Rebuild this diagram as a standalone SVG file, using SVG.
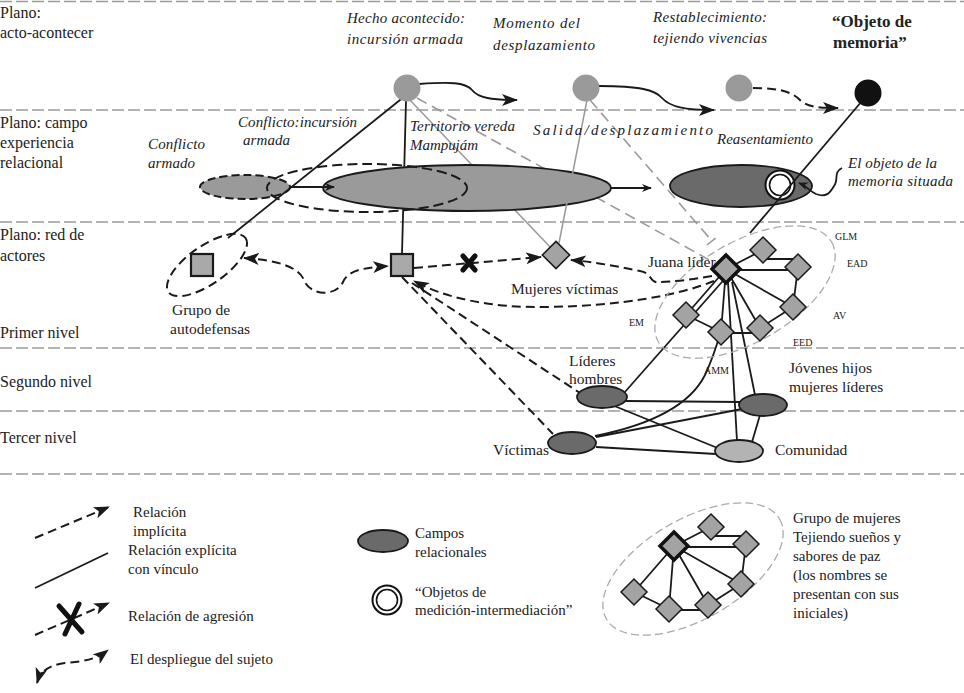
<svg xmlns="http://www.w3.org/2000/svg" xmlns:xlink="http://www.w3.org/1999/xlink" width="964" height="693" viewBox="0 0 964 693">
<style>
text{font-family:"Liberation Serif","Times New Roman",serif;fill:#222}
.lab{font-size:16px}
.mid{font-size:15.5px}
.it{font-size:15px;font-style:italic}
.sm{font-size:10px}
.leg{font-size:15px}
.plane{stroke:#9a9a9a;stroke-width:1.6;stroke-dasharray:12 4;fill:none}
.k{stroke:#1a1a1a;stroke-width:1.8;fill:none}
.kd{stroke:#1a1a1a;stroke-width:2;fill:none;stroke-dasharray:9 5}
.g{stroke:#9a9a9a;stroke-width:1.5;fill:none}
.gd{stroke:#9a9a9a;stroke-width:1.6;fill:none;stroke-dasharray:11 6}
.dia{fill:#a3a3a3;stroke:#1a1a1a;stroke-width:1.5}
.diab{fill:#a3a3a3;stroke:#111;stroke-width:3.5}
.dark{fill:#6a6a6a;stroke:#1a1a1a;stroke-width:1.8}
.mgray{fill:#9a9a9a;stroke:#1a1a1a;stroke-width:1.8}
.light{fill:#b3b3b3;stroke:#1a1a1a;stroke-width:1.8}
.sq{fill:#a9a9a9;stroke:#1a1a1a;stroke-width:2.2}
.x{stroke:#111;stroke-width:5;stroke-linecap:round;fill:none}
</style>
<defs>
<marker id="arr" viewBox="0 0 16 12" refX="15" refY="6" markerWidth="16" markerHeight="12" markerUnits="userSpaceOnUse" orient="auto-start-reverse"><path d="M0,0 L16,6 L0,12 L4,6 Z" fill="#1a1a1a"/></marker>
<marker id="arrs" viewBox="0 0 10 8" refX="9" refY="4" markerWidth="10" markerHeight="8" markerUnits="userSpaceOnUse" orient="auto"><path d="M0,0 L10,4 L0,8 L3,4 Z" fill="#1a1a1a"/></marker>
<path id="d" d="M0,-13 L13,0 L0,13 L-13,0 Z"/>
<g id="cluster">
<ellipse cx="19" cy="23" rx="100" ry="50" transform="rotate(-30 19 23)" fill="none" stroke="#aaaaaa" stroke-width="1.3" stroke-dasharray="8 4"/>
<path class="k" stroke-width="1.5" d="M0,0 L37,-19 M37,-10 L72,-10 M0,1 L72,1 M72,-2 L67,38 M0,0 L67,38 M67,38 L34,59 M-5,64 L34,64 M-5,63 L-40,46 M0,0 L-40,46 M0,0 L-5,63 M0,0 L34,59"/>
<use xlink:href="#d" class="dia" transform="translate(37,-19)"/>
<use xlink:href="#d" class="dia" transform="translate(72,-2)"/>
<use xlink:href="#d" class="dia" transform="translate(67,38)"/>
<use xlink:href="#d" class="dia" transform="translate(34,59)"/>
<use xlink:href="#d" class="dia" transform="translate(-5,63)"/>
<use xlink:href="#d" class="dia" transform="translate(-40,46)"/>
<path class="diab" d="M0,-14 L14,0 L0,14 L-14,0 Z"/>
</g>
</defs>

<rect width="964" height="693" fill="#fff"/>

<g id="planes">
<path class="plane" d="M0,1.5 H964 M0,110 H964 M0,222 H964 M0,348 H964 M0,411 H964 M0,474 H964"/>
<text class="lab" x="0" y="18">Plano:</text>
<text class="lab" x="0" y="38">acto-acontecer</text>
<text class="lab" x="0" y="128">Plano: campo</text>
<text class="lab" x="0" y="148">experiencia</text>
<text class="lab" x="0" y="168">relacional</text>
<text class="lab" x="0" y="240">Plano: red de</text>
<text class="lab" x="0" y="261">actores</text>
<text class="lab" x="0" y="338">Primer nivel</text>
<text class="lab" x="0" y="387">Segundo nivel</text>
<text class="lab" x="0" y="443">Tercer nivel</text>
</g>

<g id="connectors-back">
<path class="g" d="M408,98 L553,250"/>
<path class="gd" d="M417,98 L722,267"/>
<path class="gd" d="M590,100 L712,241 M707,245 L717,237"/>
<path class="k" d="M406,101 L402,254"/>
</g>

<g id="conflicto-armado">
<ellipse cx="245" cy="187" rx="45" ry="12" fill="#9a9a9a" stroke="#1a1a1a" stroke-width="2" stroke-dasharray="8 4"/>
<text class="it" x="148" y="149" textLength="57">Conflicto</text>
<text class="it" x="148" y="168" textLength="47">armado</text>
</g>
<g id="territorio">
<ellipse class="mgray" cx="467" cy="188" rx="144" ry="23"/>
<text class="it" x="410" y="131" textLength="105">Territorio vereda</text>
<text class="it" x="410" y="150" textLength="68">Mampujám</text>
</g>
<g id="conflicto-incursion">
<ellipse cx="367" cy="188" rx="100" ry="24" fill="none" stroke="#1a1a1a" stroke-width="2" stroke-dasharray="10 5"/>
<text class="it" x="238" y="127" textLength="119">Conflicto:incursión</text>
<text class="it" x="243" y="145" textLength="47">armada</text>
</g>
<g id="reasentamiento">
<ellipse class="dark" cx="741" cy="186" rx="71" ry="21"/>
<circle cx="780" cy="185" r="14.5" fill="#fff" stroke="#111" stroke-width="2"/>
<circle cx="780" cy="185" r="10.5" fill="#fff" stroke="#111" stroke-width="1.6"/>
<text class="it" x="717" y="144" textLength="96">Reasentamiento</text>
<text class="it" x="848" y="168" textLength="89">El objeto de la</text>
<text class="it" x="848" y="186" textLength="105">memoria situada</text>
</g>

<g id="connectors">
<path class="k" d="M419,84 C450,82 465,82 472,90 C478,98 492,100 517,100" marker-end="url(#arr)"/>
<path class="k" d="M599,86 C640,86 655,90 662,98 C670,107 685,110 714,110" marker-end="url(#arr)"/>
<path class="kd" d="M753,88 C780,88 792,92 800,100 C806,106 815,108 838,108" marker-end="url(#arr)"/>
<path class="k" stroke-width="1.5" d="M290,187 L334,187" marker-end="url(#arrs)"/>
<path class="k" stroke-width="1.5" d="M611,188 L651,188" marker-end="url(#arrs)"/>
<path class="g" d="M587,100 L559,243"/>
<path class="k" d="M405,96 L228,238"/>
<path class="k" d="M862,101 L750,233"/>
<path class="k" stroke-width="1.5" d="M842,168 C833,172 839,180 834,186 C830,193 826,198 816,194 C809,191 807,186 799,183" marker-end="url(#arrs)"/>
<path class="kd" d="M244,258 C275,260 298,266 304,280 C310,296 336,297 343,282 C348,271 360,268 388,266" marker-start="url(#arr)" marker-end="url(#arr)"/>
<path class="kd" d="M414,268 L541,257" marker-end="url(#arr)"/>
<path class="x" d="M463,256 L475,270 M475,256 L463,270"/>
<path class="kd" d="M712,276 C690,280 670,282 656,282 C650,282 652,273 640,271 C615,266 595,262 571,260" marker-end="url(#arr)"/>
<path class="kd" d="M714,281 C680,295 620,306 547,307 C490,308 445,298 414,281" marker-end="url(#arr)"/>
<path class="kd" d="M402,277 L553,434"/>
<path class="kd" d="M412,283 L580,393"/>
<path class="k" d="M729,274 L624,393"/>
<path class="k" d="M728,282 L737,441"/>
<path class="k" d="M732,282 L755,395"/>
<path class="k" d="M595,436 C650,425 690,405 705,375 C712,360 716,348 720,334"/>
<path class="k" d="M626,401 L741,402"/>
<path class="k" d="M612,405 L720,449"/>
<path class="k" d="M596,437 L742,409"/>
<path class="k" d="M596,447 L716,454"/>
<path class="k" d="M752,442 L760,415"/>
</g>

<g id="hecho-acontecido">
<circle cx="407" cy="88" r="13.5" fill="#9a9a9a"/>
<text class="it" x="347" y="23" textLength="118">Hecho acontecido:</text>
<text class="it" x="347" y="44" textLength="116">incursión armada</text>
</g>
<g id="momento-desplazamiento">
<circle cx="586" cy="88" r="13.5" fill="#9a9a9a"/>
<text class="it" x="493" y="28" textLength="87">Momento del</text>
<text class="it" x="493" y="50" textLength="102">desplazamiento</text>
<text class="it" x="533" y="135" textLength="180">Salida/desplazamiento</text>
</g>
<g id="restablecimiento">
<circle cx="739" cy="88" r="13.5" fill="#9a9a9a"/>
<text class="it" x="653" y="22" textLength="114">Restablecimiento:</text>
<text class="it" x="653" y="43" textLength="114">tejiendo vivencias</text>
</g>
<g id="objeto-memoria">
<circle cx="868" cy="93" r="13.5" fill="#111"/>
<text x="832" y="27" font-size="17" font-weight="bold">“Objeto de</text>
<text x="833" y="48" font-size="17" font-weight="bold">memoria”</text>
</g>

<g id="autodefensas">
<ellipse cx="207" cy="265" rx="47" ry="19" transform="rotate(-35 207 265)" fill="none" stroke="#1a1a1a" stroke-width="2" stroke-dasharray="9 5"/>
<rect class="sq" x="191" y="254" width="22" height="22"/>
<text class="mid" x="172" y="315">Grupo de</text>
<text class="mid" x="170" y="334">autodefensas</text>
</g>
<g id="actor-armado">
<rect class="sq" x="391" y="254" width="22" height="22"/>
</g>
<g id="mujeres-victimas">
<use xlink:href="#d" class="dia" transform="translate(556,255) scale(1.05)"/>
<text class="mid" x="511" y="294">Mujeres víctimas</text>
</g>

<g id="juana-lider">
<use xlink:href="#cluster" transform="translate(726,269)"/>
<text class="mid" x="648" y="267">Juana líder</text>
<text class="sm" x="835" y="240">GLM</text>
<text class="sm" x="847" y="267">EAD</text>
<text class="sm" x="833" y="319">AV</text>
<text class="sm" x="793" y="346">EED</text>
<text class="sm" x="629" y="326">EM</text>
<text class="sm" x="704" y="374">AMM</text>
</g>

<g id="lideres-hombres">
<ellipse class="dark" cx="602" cy="397" rx="25" ry="11"/>
<text class="mid" x="569" y="366">Líderes</text>
<text class="mid" x="569" y="384">hombres</text>
</g>
<g id="jovenes">
<ellipse class="dark" cx="763" cy="405" rx="24" ry="11"/>
<text class="mid" x="789" y="373">Jóvenes hijos</text>
<text class="mid" x="789" y="392">mujeres líderes</text>
</g>
<g id="victimas">
<ellipse class="dark" cx="572" cy="443" rx="24" ry="11"/>
<text class="mid" x="493" y="455">Víctimas</text>
</g>
<g id="comunidad">
<ellipse class="light" cx="739" cy="451" rx="24" ry="11"/>
<text class="mid" x="775" y="455">Comunidad</text>
</g>

<g id="legend">
<path class="kd" d="M35,538 L109,507" marker-end="url(#arr)"/>
<text class="leg" x="133" y="517">Relación</text>
<text class="leg" x="133" y="536">implícita</text>
<path class="k" d="M35,588 L108,553"/>
<text class="leg" x="128" y="555">Relación explícita</text>
<text class="leg" x="128" y="574">con vínculo</text>
<path class="kd" d="M35,635 L109,603" marker-end="url(#arr)"/>
<path class="x" stroke-width="4.5" d="M59,606 L82,632 M79,604 L65,634"/>
<text class="leg" x="128" y="621">Relación de agresión</text>
<path class="kd" d="M37,683 C41,670 50,665 65,663 C85,661 95,660 108,650" marker-start="url(#arr)" marker-end="url(#arr)"/>
<text class="leg" x="130" y="664">El despliegue del sujeto</text>
<ellipse class="dark" cx="383" cy="541" rx="25" ry="11"/>
<text class="leg" x="415" y="538">Campos</text>
<text class="leg" x="415" y="557">relacionales</text>
<circle cx="387" cy="600" r="14.5" fill="#fff" stroke="#111" stroke-width="2"/>
<circle cx="387" cy="600" r="10.5" fill="#fff" stroke="#111" stroke-width="1.6"/>
<text class="leg" x="415" y="597">“Objetos de</text>
<text class="leg" x="415" y="615">medición-intermediación”</text>
<use xlink:href="#cluster" transform="translate(674,546)"/>
<text class="leg" x="793" y="523">Grupo de mujeres</text>
<text class="leg" x="793" y="542">Tejiendo sueños y</text>
<text class="leg" x="793" y="561">sabores de paz</text>
<text class="leg" x="793" y="580">(los nombres se</text>
<text class="leg" x="793" y="599">presentan con sus</text>
<text class="leg" x="793" y="618">iniciales)</text>
</g>
</svg>
